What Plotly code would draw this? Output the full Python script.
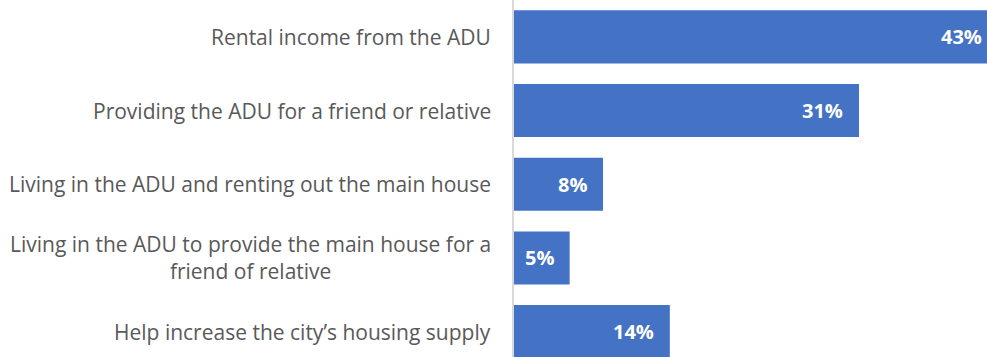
import plotly.graph_objects as go

# Survey: primary reason for building an ADU (share of respondents)
categories = [
    "Rental income from the ADU",
    "Providing the ADU for a friend or relative",
    "Living in the ADU and renting out the main house",
    "Living in the ADU to provide the main house for a<br>friend of relative",
    "Help increase the city\u2019s housing supply",
]
values = [43, 31, 8, 5, 14]
value_labels = ["43%", "31%", "8%", "5%", "14%"]

BAR_COLOR = "#4472C4"
TEXT_COLOR = "#595959"
FONT = "Open Sans"
X_MAX = 42.5

fig = go.Figure(
    go.Bar(
        x=values,
        y=list(range(len(categories))),
        orientation="h",
        marker=dict(color=BAR_COLOR, line=dict(width=0)),
        hoverinfo="skip",
    )
)

annotations = []
# category labels, right-aligned against the axis line
for i, cat in enumerate(categories):
    annotations.append(dict(
        x=0, xref="paper", y=i, yref="y",
        text=cat, showarrow=False,
        xanchor="right", yanchor="middle", align="center",
        xshift=-21,
        font=dict(family=FONT, size=21, color=TEXT_COLOR),
    ))
# value labels inside the end of each bar
for i, (v, lab) in enumerate(zip(values, value_labels)):
    clipped = v > X_MAX
    annotations.append(dict(
        x=min(v, X_MAX), xref="x", y=i, yref="y",
        text=f"<b>{lab}</b>", showarrow=False,
        xanchor="right", yanchor="middle",
        xshift=-3 if clipped else -14,
        font=dict(family=FONT, size=20, color="white"),
    ))

fig.update_layout(
    width=987, height=357,
    margin=dict(l=514, r=0, t=0, b=0),
    paper_bgcolor="white", plot_bgcolor="white",
    bargap=0.28,
    showlegend=False,
    annotations=annotations,
    xaxis=dict(range=[0, X_MAX], visible=False, fixedrange=True),
    yaxis=dict(
        range=[4.344, -0.5],
        showticklabels=False, ticks="",
        showgrid=False, zeroline=False,
        showline=True, linecolor="#d9d9d9", linewidth=2,
        fixedrange=True,
    ),
)

fig.write_html("out.html")
